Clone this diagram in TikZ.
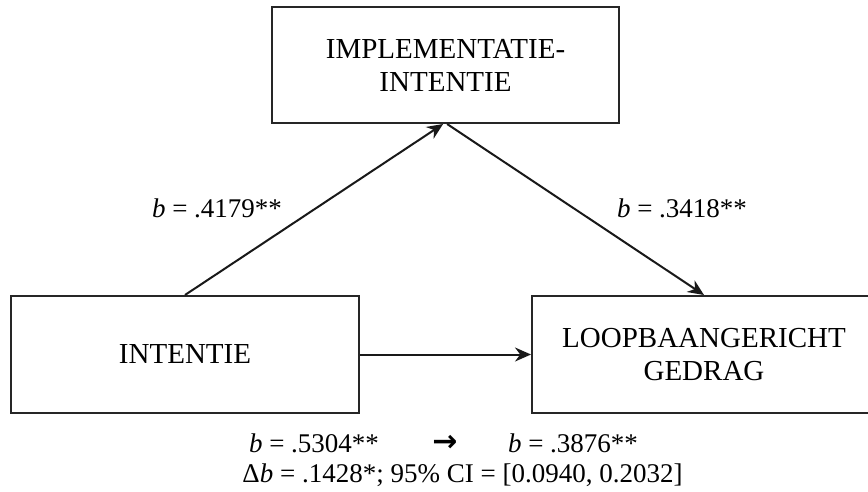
\documentclass[tikz,border=0pt]{standalone}
\usepackage{fontspec}
\setmainfont{Liberation Serif}
\newfontfamily\arrowfont{DejaVu Sans}
\usetikzlibrary{arrows.meta,positioning}

\begin{document}
\begin{tikzpicture}[
    x=0.5pt, y=-0.5pt,
    box/.style={rectangle, draw=black!85, line width=1pt, fill=white,
                minimum width=174pt, minimum height=58.5pt, align=center,
                font=\fontsize{14.5}{16.5}\selectfont, inner sep=2pt},
    coef/.style={font=\fontsize{13.5}{16}\selectfont, inner sep=1pt},
    arrow/.style={-{Stealth[length=8pt,width=7pt]}, color=black!90, line width=1pt},
]
\useasboundingbox (0,0) rectangle (868,492);
\node[box, minimum width=173.5pt, minimum height=58pt] (impl) at (445.5,65)
    {IMPLEMENTATIE-\\INTENTIE};
\node[box] (intentie) at (185,354.5) {INTENTIE};
\node[box, minimum width=172pt] (gedrag) at (704,354.5)
    {LOOPBAANGERICHT\\GEDRAG};
\draw[arrow] (intentie.north) -- ([xshift=-1.2pt]impl.south);
\draw[arrow] ([xshift=0.8pt]impl.south) -- (gedrag.north);
\draw[arrow] (intentie.east) -- (gedrag.west);
% coefficients
\node[coef] (bimpl) at (217,208) {\textit{b} = .4179**};
\node[coef] (bgedrag) at (682,208) {\textit{b} = .3418**};
\node[coef] (ctot) at (314,443) {\textit{b} = .5304**};
\node[coef] (cdir) at (573,443) {\textit{b} = .3876**};
\node[coef, font=\arrowfont\bfseries\fontsize{15}{16}\selectfont] (cto) at (445,443) {→};
\node[coef] (delta) at (462.5,475) {Δ\textit{b} = .1428*; 95\% CI = [0.0940, 0.2032]};
\end{tikzpicture}
\end{document}
